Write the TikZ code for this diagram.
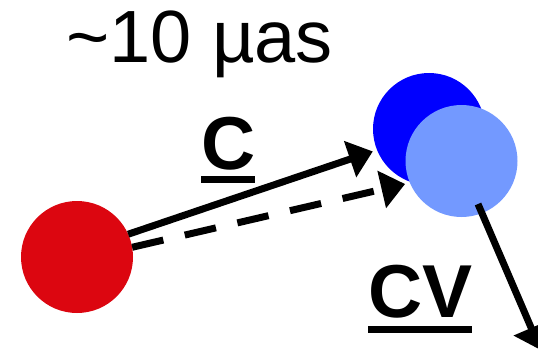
\documentclass[tikz,border=0pt]{standalone}
\usepackage{fontspec}
\setmainfont{Liberation Sans}
\usetikzlibrary{arrows.meta}
\definecolor{dotred}{RGB}{220,6,16}
\definecolor{dotblue}{RGB}{0,0,255}
\definecolor{dotlight}{RGB}{115,153,255}
\begin{document}
\begin{tikzpicture}[x=1pt,y=-1pt,
  dot/.style={circle,minimum size=112pt,inner sep=0pt,outer sep=0pt,draw=none},
  vec/.style={line width=7pt,-{Triangle[length=24pt,width=37pt]}},
  lbl/.style={inner sep=0pt,outer sep=0pt,anchor=base west,font=\fontsize{75}{80}\selectfont\bfseries},
  uline/.style={line width=7.5pt}]
\useasboundingbox (0,0) rectangle (538,353);
\node[dot,fill=dotred] (red) at (77,257) {};
\node[dot,fill=dotblue] (blue) at (429,129) {};
\node[dot,fill=dotlight] (lblue) at (461.5,161) {};
\node[inner sep=0pt,anchor=base west,font=\fontsize{74}{80}\selectfont] (scale) at (66,63) {\textasciitilde10 µas};
\node[lbl] (c) at (201,169) {C};
\draw[uline] ([yshift=-10.5pt]c.base west) -- ([yshift=-10.5pt]c.base east);
\node[lbl] (cv) at (368.3,317) {CV};
\draw[uline] ([yshift=-12.5pt]cv.base west) -- ([yshift=-12.5pt]cv.base east);
\draw[vec,shorten >=4.5pt] (red.24) -- (blue.202);
\draw[vec,dash pattern=on 32pt off 22pt,shorten >=5pt] (red.10) -- (lblue.203);
\coordinate (cvs) at (478,204);
\coordinate (cve) at (540.7,350);
\draw[vec] (cvs) -- (cve);
\end{tikzpicture}
\end{document}
